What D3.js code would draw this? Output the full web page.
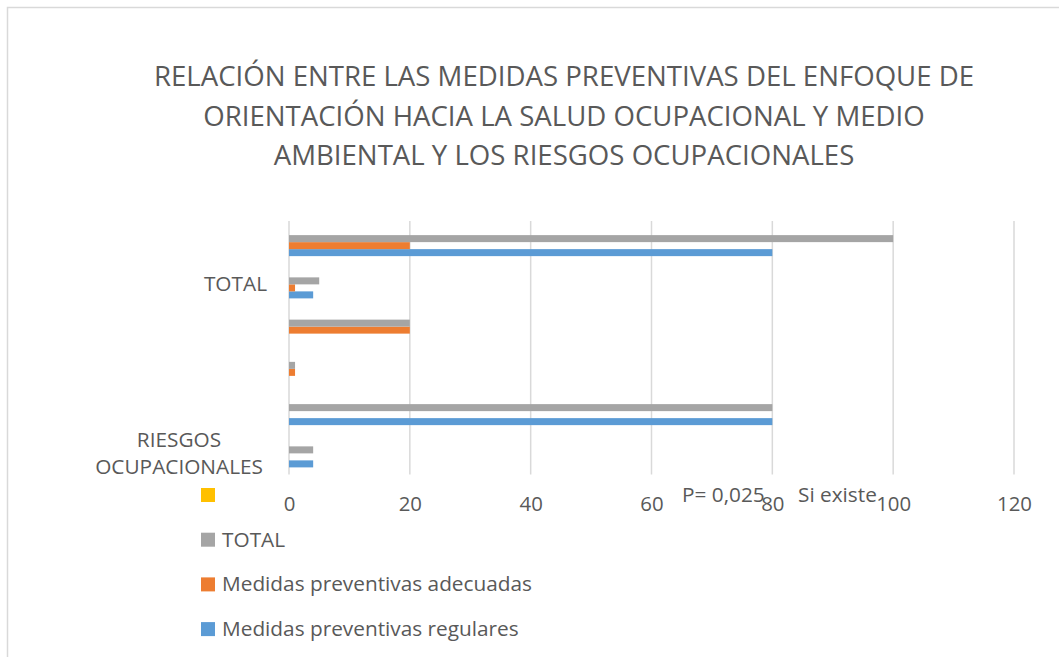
<!DOCTYPE html>
<html>
<head>
<meta charset="utf-8">
<script src="https://cdn.jsdelivr.net/npm/d3@7"></script>
<style>
  body { margin: 0; background: #fff; }
  svg { display: block; font-family: "Open Sans", sans-serif; }
</style>
</head>
<body>
<svg></svg>
<script>
// categories bottom -> top, like excel; only every 4th label is shown
const categoryLabels = ['RIESGOS OCUPACIONALES', '', '', '', 'TOTAL', '']
const seriesNames = ['Medidas preventivas regulares', 'Medidas preventivas adecuadas', 'TOTAL', '']
const seriesColors = ['#5B9BD5', '#ED7D31', '#A5A5A5', '#FFC000']
const regulares = [4, 80, 0, 0, 4, 80]
const adecuadas = [0, 0, 1, 20, 1, 20]
const totales = [4, 80, 1, 20, 5, 100]
const vacia = [0, 0, 0, 0, 0, 0]
const xTicks = [0, 20, 40, 60, 80, 100, 120]
const titleLines = [
	'RELACIÓN ENTRE LAS MEDIDAS PREVENTIVAS DEL ENFOQUE DE',
	'ORIENTACIÓN HACIA LA SALUD OCUPACIONAL Y MEDIO',
	'AMBIENTAL Y LOS RIESGOS OCUPACIONALES'
]
const notes = ['P= 0,025', 'Si existe']

function drawChart() {
	const W = 1059, H = 657
	const margin = {top: 221, bottom: 182.5, left: 289, right: 45}
	const textColor = '#595959'
	const fs = '20.8px'

	const svg = d3.select('svg')
		.attr('width', W)
		.attr('height', H)

	// chart frame (cut by the picture on the right and bottom)
	svg.append('rect')
		.attr('x', 7.5).attr('y', 7.5)
		.attr('width', W + 20).attr('height', H + 20)
		.attr('fill', 'none')
		.attr('stroke', '#d9d9d9')
		.attr('stroke-width', 1.5)

	// title
	svg.append('g')
		.selectAll('text')
		.data(titleLines)
		.join('text')
			.attr('x', 564)
			.attr('y', (d, i) => 86 + i * 39.5)
			.attr('text-anchor', 'middle')
			.attr('font-size', '27.6px')
			.attr('fill', textColor)
			.text(d => d)

	const x = d3.scaleLinear()
		.domain([0, 120])
		.range([margin.left, W - margin.right])

	const idx = d3.range(categoryLabels.length)
	const y = d3.scaleBand()
		.domain(idx.slice().reverse())
		.range([margin.top, H - margin.bottom])
		.paddingInner(0.337)
		.paddingOuter(0.1685)

	// series 0 at the bottom of each group
	const ySub = d3.scaleBand()
		.domain([3, 2, 1, 0])
		.range([0, y.bandwidth()])

	// gridlines
	svg.append('g')
		.selectAll('line')
		.data(xTicks)
		.join('line')
			.attr('x1', d => x(d)).attr('x2', d => x(d))
			.attr('y1', margin.top).attr('y2', H - margin.bottom)
			.attr('stroke', '#d9d9d9')
			.attr('stroke-width', 1.5)

	// x axis labels
	const xAxis = svg.append('g')
		.attr('transform', `translate(0, ${H - margin.bottom})`)
		.call(d3.axisBottom(x).tickValues(xTicks).tickSize(0).tickPadding(22))
	xAxis.select('.domain').remove()
	xAxis.selectAll('text')
		.attr('font-family', '"Open Sans", sans-serif')
		.attr('font-size', '20.4px')
		.attr('fill', textColor)

	const allSeries = [regulares, adecuadas, totales, vacia]
	const barData = []
	allSeries.forEach((vals, s) => {
		vals.forEach((v, c) => barData.push({s, c, v}))
	})

	svg.append('g')
		.selectAll('rect')
		.data(barData)
		.join('rect')
			.attr('x', x(0))
			.attr('y', d => y(d.c) + ySub(d.s))
			.attr('width', d => x(d.v) - x(0))
			.attr('height', ySub.bandwidth())
			.attr('fill', d => seriesColors[d.s])

	// category labels
	const catG = svg.append('g')
	idx.forEach(c => {
		const label = categoryLabels[c]
		if (!label) return
		const words = label.split(' ')
		const cy = y(c) + y.bandwidth() / 2
		const t = catG.append('text')
			.attr('font-size', fs)
			.attr('fill', textColor)
		if (words.length === 1) {
			t.attr('x', 267).attr('y', cy + 7).attr('text-anchor', 'end').text(label)
		} else {
			t.append('tspan').attr('x', 179).attr('y', cy - 6)
				.attr('text-anchor', 'middle').text(words[0])
			t.append('tspan').attr('x', 263).attr('y', cy + 21)
				.attr('text-anchor', 'end').text(words[1])
		}
	})

	// annotation
	svg.append('g')
		.selectAll('text')
		.data(notes)
		.join('text')
			.attr('x', (d, i) => i === 0 ? 682 : 798)
			.attr('y', 502)
			.attr('font-size', fs)
			.attr('fill', textColor)
			.text(d => d)

	// legend, top item = last series
	const legend = svg.append('g')
		.selectAll('g')
		.data(d3.range(seriesNames.length).reverse())
		.join('g')
			.attr('transform', (d, i) => `translate(201, ${488 + i * 44.7})`)
	legend.append('rect')
		.attr('width', 14).attr('height', 14)
		.attr('fill', d => seriesColors[d])
	legend.append('text')
		.attr('x', 21)
		.attr('y', 14)
		.attr('font-size', fs)
		.attr('fill', textColor)
		.text(d => seriesNames[d])
}

drawChart()
</script>
</body>
</html>
